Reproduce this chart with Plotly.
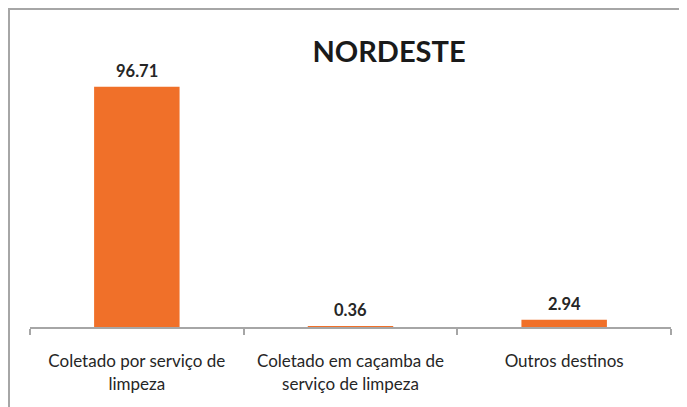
import plotly.graph_objects as go

categories = ["Coletado por serviço de<br>limpeza",
              "Coletado em caçamba de<br>serviço de limpeza",
              "Outros destinos"]
values = [96.71, 0.36, 2.94]
value_labels = ["96.71", "0.36", "2.94"]
title_text = "NORDESTE"

W, H = 687, 407
ml, mr, mt, mb = 22, 24, 21, 88
pw, ph = W - ml - mr, H - mt - mb

def px_to_paper_x(px):
    return (px - ml) / pw

def px_to_paper_y(py):
    return 1 - (py - mt) / ph

FONT = "Lato, 'Open Sans', sans-serif"

fig = go.Figure()
fig.add_trace(go.Bar(
    x=categories, y=values,
    marker=dict(color="#F07029", line=dict(width=0)),
    hoverinfo="skip",
))

for c, v, t in zip(categories, values, value_labels):
    fig.add_annotation(x=c, y=v, text="<b>%s</b>" % t, showarrow=False,
                       yanchor="bottom", yshift=4,
                       font=dict(family=FONT, size=16.5, color="#262626"))

fig.add_shape(type="rect", xref="paper", yref="paper",
              x0=px_to_paper_x(1), x1=px_to_paper_x(W - 1),
              y0=px_to_paper_y(H - 1), y1=px_to_paper_y(1),
              line=dict(color="#A6A6A6", width=2), layer="above")

fig.update_layout(
    width=W, height=H,
    margin=dict(l=ml, r=mr, t=mt, b=mb),
    paper_bgcolor="white", plot_bgcolor="white",
    bargap=0.6,
    showlegend=False,
    title=dict(text="<b>%s</b>" % title_text, x=381 / W, xanchor="center",
               y=1 - 44 / H, yanchor="middle",
               font=dict(family=FONT, size=29, color="#1a1a1a")),
    xaxis=dict(showline=True, linecolor="#A6A6A6", linewidth=2,
               ticks="outside", tickson="boundaries", ticklen=6, tickcolor="#A6A6A6", tickwidth=2,
               tickfont=dict(family=FONT, size=17, color="#262626"),
               ticklabelstandoff=18, showgrid=False, zeroline=False, fixedrange=True),
    yaxis=dict(range=[0, 120], visible=False, showgrid=False, zeroline=False),
)

fig.write_html("out.html")
